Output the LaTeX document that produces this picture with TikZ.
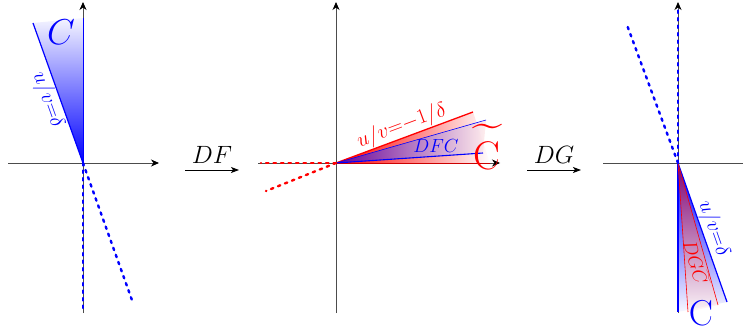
\RequirePackage{fix-cm}
\documentclass[tikz,border=0pt]{standalone}
\usetikzlibrary{arrows.meta}
\begin{document}
\begin{tikzpicture}[x=1pt,y=-1pt,
  axis/.style={draw=black!70, line width=0.9pt, -{Stealth[length=8pt,width=7pt,inset=2.5pt,black]}},
  mapar/.style={draw=black, line width=1pt, -{Stealth[length=8pt,width=6pt,inset=2pt]}},
  dots/.style={line width=2.4pt, dash pattern=on 2.5pt off 5pt, line cap=round},
  lbl/.style={font=\fontsize{21}{23}\selectfont, inner sep=1pt},
  mid/.style={font=\fontsize{19}{21}\selectfont, inner sep=1pt},
  maplbl/.style={font=\fontsize{25}{28}\selectfont, inner sep=0pt, above=6pt},
  big/.style={font=\fontsize{36}{38}\selectfont, inner sep=0pt}]
\useasboundingbox (0,0) rectangle (743,334);

% ---------- panel 1 ----------
\coordinate (O1) at (83,163);
\coordinate (X1a) at (8,163);  \coordinate (X1b) at (159,163);
\coordinate (Y1a) at (83,313); \coordinate (Y1b) at (83,2);
\coordinate (A1) at (83,18);   \coordinate (B1) at (33,23);
\coordinate (D1a) at (83,312); \coordinate (D1b) at (133,303);
\shade[top color=blue!4, bottom color=blue] (O1) -- (A1) -- (B1) -- cycle;
\draw[axis] (X1a) -- (X1b);
\draw[axis] (Y1a) -- (Y1b);
\draw[blue, line width=1pt] (O1) -- (A1);
\draw[blue, line width=1.2pt] (O1) -- (B1);
\draw[blue, dots] (O1) -- (D1a);
\draw[blue, dots] (O1) -- (D1b);
\path (B1) -- (O1) node[lbl, text=blue, sloped, below, pos=0.52] {$u/v{=}\delta$};
\node[big, text=blue] (C1) at (61,32) {$C$};

% ---------- arrow DF ----------
\coordinate (F1) at (185,170); \coordinate (F2) at (239,170);
\draw[mapar] (F1) -- (F2) node[midway, maplbl] (DF) {$DF$};

% ---------- panel 2 ----------
\coordinate (O2) at (336,163);
\coordinate (X2a) at (258,163); \coordinate (X2b) at (500,163);
\coordinate (Y2a) at (336,313); \coordinate (Y2b) at (336,2);
\coordinate (R2) at (473,112);  \coordinate (R2b) at (490,163);
\coordinate (B2a) at (486,120); \coordinate (B2b) at (483,153);
\coordinate (E2a) at (261,163); \coordinate (E2b) at (266,191);
\shade[left color=red, right color=white] (O2) -- (R2) -- (R2b) -- cycle;
\shade[left color=blue!70!red, right color=red!8!white, opacity=0.85] (O2) -- (B2a) -- (B2b) -- cycle;
\draw[axis] (X2a) -- (X2b);
\draw[axis] (Y2a) -- (Y2b);
\draw[red, line width=1.3pt] (O2) -- (R2);
\draw[red!80!black, line width=0.8pt] (O2) -- (R2b);
\draw[blue, line width=0.6pt] (O2) -- (B2a);
\draw[blue, line width=1.1pt] (O2) -- (B2b);
\draw[red, dots] (O2) -- (E2a);
\draw[red, dots] (O2) -- (E2b);
\path (O2) -- (R2) node[lbl, text=red, sloped, above, pos=0.51] {$u/v{=}{-}1/\delta$};
\node[mid, text=blue] (DFC) at (436,146) {$DFC$};
\node[text=red, inner sep=0pt, font=\fontsize{40}{42}\selectfont] (Ct) at (487,156) {C};
\node[text=red, inner sep=0pt, font=\fontsize{40}{42}\selectfont, xscale=1.35] (Ctil) at (488,130) {\char126};

% ---------- arrow DG ----------
\coordinate (G1) at (527,170); \coordinate (G2) at (581,170);
\draw[mapar] (G1) -- (G2) node[midway, maplbl] (DG) {$DG$};

% ---------- panel 3 ----------
\coordinate (O3) at (678,163);
\coordinate (X3a) at (603,163); \coordinate (X3b) at (752,163);
\coordinate (Y3a) at (678,313); \coordinate (Y3b) at (678,2);
\coordinate (B3a) at (678,312); \coordinate (B3b) at (727,302);
\coordinate (R3a) at (688,312); \coordinate (R3b) at (718,305);
\coordinate (E3a) at (678,10);  \coordinate (E3b) at (627,25);
\shade[top color=blue, bottom color=blue!3] (O3) -- (B3a) -- (B3b) -- cycle;
\shade[top color=red!90!black, bottom color=red!5, opacity=0.55] (O3) -- (R3a) -- (R3b) -- cycle;
\draw[axis] (X3a) -- (X3b);
\draw[axis] (Y3a) -- (Y3b);
\draw[blue, line width=1.1pt] (O3) -- (B3a);
\draw[blue, line width=1.2pt] (O3) -- (B3b);
\draw[red, line width=0.6pt] (O3) -- (R3a);
\draw[red, line width=0.6pt] (O3) -- (R3b);
\draw[blue, dots] (O3) -- (E3a);
\draw[blue, dots] (O3) -- (E3b);
\path (O3) -- (B3b) node[lbl, text=blue, sloped, above, pos=0.5] {$u/v{=}\delta$};
\node[mid, text=red, rotate=-74] (DGC) at (697,262) {$DG\widetilde{C}$};
\node[big, text=blue] (C3) at (701,313) {$\mathrm{C}$};
\end{tikzpicture}
\end{document}
